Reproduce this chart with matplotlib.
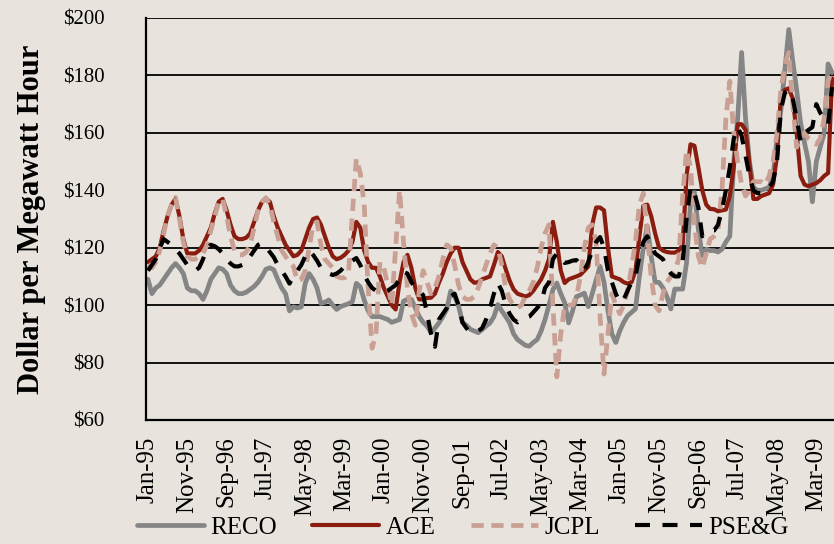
import matplotlib
matplotlib.use('Agg')
import matplotlib.pyplot as plt

# monthly average prices, Jan-95 .. Jul-09 ($/MWh)
reco = [109, 104, 106, 107, 109, 111, 113, 114.5, 113, 111, 106, 105,
        105, 104, 102, 105, 109, 111, 113, 112.5, 111, 107, 105, 104,
        104, 104.5, 105.5, 106.5, 108, 110, 112.5, 113, 112.3, 109, 106, 104,
        98, 99.4, 99, 99.4, 107.6, 111, 109, 106, 100.6, 101, 101.8, 100,
        98.5, 99.5, 100, 100.5, 101.2, 107.6, 106.4, 101.8, 98, 96, 96, 96,
        95.5, 95, 94, 94.5, 95, 101.4, 102, 102, 99, 96, 94, 92.7,
        90.4, 92, 93.8, 96, 98.5, 104.9, 103, 99.7, 94, 93, 91.6, 91,
        90.4, 91.5, 92.7, 93.8, 96, 100.2, 98, 96, 93.8, 90, 88, 87,
        86, 85.7, 87, 88, 91, 95, 100, 105.4, 107.7, 104, 100.8, 93.8,
        98, 103, 103.5, 104.2, 99.5, 104, 108.8, 113.5, 108, 98, 90, 87,
        91, 94, 96.3, 97.5, 98.7, 110, 120, 127.6, 117, 108, 107.9, 106,
        103, 98.7, 105.6, 105.6, 105.6, 114.8, 135.7, 139.2, 126.4, 117.2, 119.5, 119,
        119, 118.5, 119.5, 122, 124, 150, 165, 188, 165, 150, 141, 140,
        140, 140.5, 141, 145, 158, 168, 182, 196, 185, 175, 163.5, 156.5,
        150, 136, 150, 155, 160, 184, 181]

ace = [115, 116, 117, 120, 126, 131, 135, 137, 131, 123, 118, 118,
       118, 119, 121, 124, 127, 132, 136, 137, 133, 128, 124, 123,
       123, 123.5, 125, 129, 133, 136, 137, 136, 131, 127, 124, 121,
       119, 117, 117.5, 119, 123, 127, 130, 130.5, 128, 124, 120, 117,
       116, 116.5, 117.5, 119, 122, 129, 127, 119, 115, 113, 113, 110,
       106, 103, 100, 98.5, 108, 115, 117.5, 113, 106, 102, 102, 102.5,
       102.6, 104, 107.8, 111, 115, 118, 120, 120, 115, 112, 109, 107.8,
       108, 109, 109.5, 110, 114, 118.5, 117, 112.5, 108.5, 105.5, 104, 103.5,
       103, 103.5, 105, 107, 109, 112, 116, 129, 122, 112, 107.7, 109,
       109.5, 110, 110.6, 112, 113.5, 128, 134, 134, 133, 120, 110, 109.5,
       109, 108, 107.5, 108, 112, 124, 134.6, 135, 131, 125, 120, 119,
       118.5, 118.3, 118.3, 119, 121, 145, 156, 155.5, 148, 140, 135, 133.5,
       133.4, 132.7, 133, 133.3, 138, 148, 163, 163, 161, 149, 137, 137,
       138, 138.5, 139, 142, 152, 173, 175, 175.5, 172, 160, 145, 142,
       141.4, 142, 142.5, 143.5, 145, 146, 179]

jcpl = [114, 113, 115, 119, 125, 131, 135, 137.5, 130, 122, 117, 116,
        116, 117, 118, 121, 126, 131, 136, 137, 131, 124, 119, 117.5,
        117.5, 118.5, 121, 127, 133, 136, 137.4, 135, 129, 124, 119, 117,
        115, 113.5, 108.5, 109, 112, 120, 128, 129, 121, 116, 114.5, 113,
        110, 109.5, 109.5, 111, 132, 151, 146, 135, 106, 85, 90, 115,
        113, 107, 100, 120, 140, 122, 106, 97, 93, 105, 112, 108,
        104, 106, 110, 116, 121, 120, 114, 107, 103, 102, 102, 103,
        106, 110, 114, 118, 121, 120, 114, 106, 102, 100, 99, 100,
        103, 105, 108, 113, 120, 125, 128, 100, 75, 90, 100, 100,
        100, 103, 110, 120, 127, 128, 122, 96, 76, 90, 104, 100,
        97, 100, 105, 113, 122, 135, 139, 125, 110, 100, 98, 104,
        108, 110, 112, 116, 138, 154, 148, 128, 117, 113, 118, 123,
        124, 126, 140, 165, 178, 160, 150, 142, 138, 140, 143, 143,
        143, 142, 145, 150, 160, 175, 184, 188, 170, 155, 158, 160,
        158, 157, 156, 158, 165, 178, 182]

pseg = [112, 114, 116, 120, 123, 122, 121, 119.5, 118, 116, 114, 113,
        112, 113, 116, 120, 121, 120.5, 119.5, 118, 116, 114.5, 113.5, 113.5,
        114, 115, 117, 119, 121, 121.6, 120, 118.5, 116.7, 114, 112, 110,
        107.5, 110, 112, 114, 117, 119, 117.5, 115.5, 113, 112, 111, 110.5,
        111, 112, 113.5, 114.5, 115.5, 116.4, 114, 110.5, 108, 106, 105, 104.5,
        104.5, 105, 106, 107, 109, 111.6, 111, 108, 106, 105, 103.5, 97,
        90, 85.5, 95, 97, 99, 103, 104, 100, 94, 92, 90.5, 91,
        91, 92, 95, 99, 104, 107.7, 105, 100, 97, 95, 94, 95,
        95.5, 96, 97.5, 99, 100.7, 106, 108, 116, 118, 116, 114.7, 115,
        115.5, 115.7, 114, 112.2, 115, 119, 122, 123.7, 120, 112, 108, 104,
        101, 102, 105, 108, 110, 117, 122, 124, 121, 118, 117, 116,
        113, 111, 110, 110, 115, 130, 141, 139, 134, 124, 125, 126,
        126, 128, 133, 140, 148, 158, 162, 159, 152, 145, 140, 139,
        139, 139.5, 141, 143, 150, 168, 174, 175, 172, 165, 157, 160,
        161, 162, 170, 167, 165, 163, 176]

tick_labels = ['Jan-95', 'Nov-95', 'Sep-96', 'Jul-97', 'May-98', 'Mar-99',
               'Jan-00', 'Nov-00', 'Sep-01', 'Jul-02', 'May-03', 'Mar-04',
               'Jan-05', 'Nov-05', 'Sep-06', 'Jul-07', 'May-08', 'Mar-09']
y_ticks = [60, 80, 100, 120, 140, 160, 180, 200]

bg = '#e8e4dd'
plt.rcParams['font.family'] = ['Liberation Serif', 'DejaVu Serif']

fig = plt.figure(figsize=(8.34, 5.44), dpi=100, facecolor=bg)
ax = fig.add_axes([146/834, 124/544, 688/834, 402/544], facecolor=bg)

x = list(range(len(ace)))
ax.plot(x, reco, color='#858585', lw=3.4, label='RECO', solid_capstyle='round')
ax.plot(x, ace, color='#8b1c10', lw=3.0, label='ACE', solid_capstyle='round')
ax.plot(x, jcpl, color='#c9a093', lw=3.4, label='JCPL', dashes=(2.6, 1.6))
ax.plot(x, pseg, color='black', lw=3.0, label='PSE&G', dashes=(3.6, 3.0))

ax.set_xlim(-0.5, len(ace) - 0.5)
ax.set_ylim(60, 200)
ax.set_yticks(y_ticks)
ax.set_yticklabels(['\\$' + str(v) for v in y_ticks], fontsize=15)
ax.set_xticks(range(0, len(ace), 10))
ax.set_xticklabels(tick_labels, rotation=90, fontsize=18)
ax.tick_params(length=0)
ax.tick_params(axis='y', pad=30)
ax.tick_params(axis='x', pad=12)

ax.grid(axis='y', color='black', lw=1.3)
ax.set_axisbelow(True)
for s in ['top', 'right']:
    ax.spines[s].set_visible(False)
ax.spines['left'].set_linewidth(1.6)
ax.spines['bottom'].set_linewidth(1.6)

ax.set_ylabel('Dollar per Megawatt Hour', fontsize=22, fontweight='bold', labelpad=12)

fig.legend(loc='lower center', bbox_to_anchor=(0.555, -0.018), ncol=4, frameon=False,
           fontsize=18, handlelength=2.7, handletextpad=0.25, columnspacing=1.4,
           borderpad=0.1)

fig.savefig('out.png', dpi=100, facecolor=bg)
